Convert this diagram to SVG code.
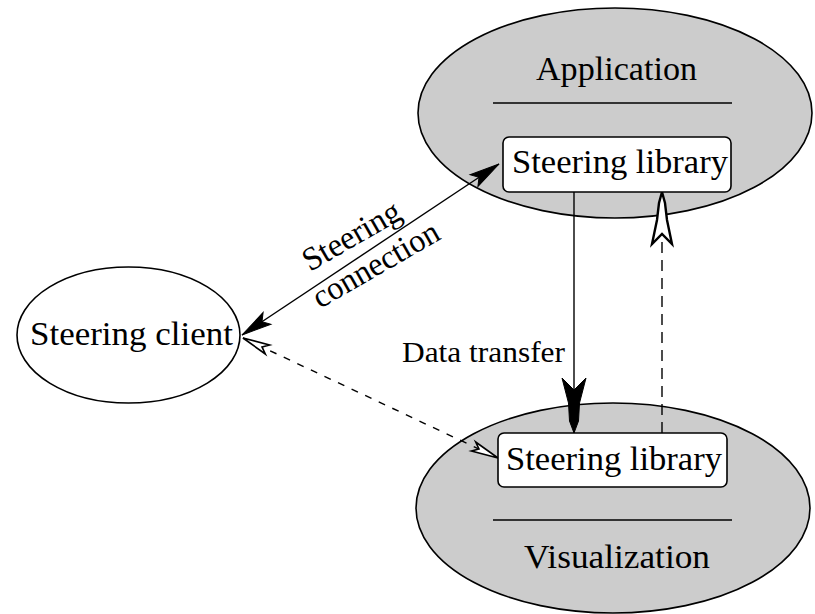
<svg xmlns="http://www.w3.org/2000/svg" width="815" height="614" viewBox="0 0 815 614">
<style>
  .t { font-family: "Liberation Serif", "Times New Roman", serif; font-size: 33px; fill: #000; }
  .big { fill: #cccccc; stroke: #000; stroke-width: 1.6; }
  .box { fill: #fff; stroke: #000; stroke-width: 1.6; }
  .rule { stroke: #000; stroke-width: 1.6; }
  .conn { fill: none; stroke: #000; stroke-width: 1.4; }
  .dash { stroke-dasharray: 7 8; }
  .vdash { stroke-dasharray: 11 7; }
</style>
<defs>
  <marker id="fillHead" markerUnits="userSpaceOnUse" orient="auto-start-reverse" refX="0" refY="0" markerWidth="40" markerHeight="20" overflow="visible">
    <path d="M0,0 L-30,-7 L-24,0 L-30,7 Z" fill="#000" stroke="#000" stroke-width="1"/>
  </marker>
  <marker id="openHead" markerUnits="userSpaceOnUse" orient="auto-start-reverse" refX="0" refY="0" markerWidth="40" markerHeight="20" overflow="visible">
    <path d="M0,0 L-27,-5 L-21,0 L-27,5 Z" fill="#fff" stroke="#000" stroke-width="1.6" stroke-dasharray="none"/>
  </marker>
  <marker id="dataHead" markerUnits="userSpaceOnUse" orient="auto" refX="0" refY="0" markerWidth="60" markerHeight="30" overflow="visible">
    <path d="M0,0 L-12,-4.5 L-30,-5.5 L-55,-12 L-43,0 L-55,12 L-30,5.5 L-12,4.5 Z" fill="#000" stroke="#000" stroke-width="1"/>
  </marker>
  <marker id="openTall" markerUnits="userSpaceOnUse" orient="auto" refX="0" refY="0" markerWidth="60" markerHeight="30" overflow="visible">
    <path d="M0,0 L-11,-3 L-28,-5 L-52,-10 L-42,0 L-52,10 L-28,5 L-11,3 Z" fill="#fff" stroke="#000" stroke-width="2.4" stroke-dasharray="none"/>
  </marker>
</defs>

<g id="application">
  <ellipse class="big" cx="615" cy="113" rx="197" ry="105"/>
  <text class="t" x="536" y="80" textLength="161" lengthAdjust="spacingAndGlyphs">Application</text>
  <line class="rule" x1="493" y1="103" x2="732" y2="103"/>
</g>

<g id="visualization">
  <ellipse class="big" cx="613" cy="508" rx="197" ry="105"/>
  <line class="rule" x1="493" y1="520" x2="732" y2="520"/>
  <text class="t" x="524" y="568" textLength="186" lengthAdjust="spacingAndGlyphs">Visualization</text>
</g>

<g id="client">
  <ellipse fill="#fff" stroke="#000" stroke-width="1.6" cx="128.5" cy="335" rx="111.5" ry="68"/>
  <text class="t" x="30" y="345" textLength="203" lengthAdjust="spacingAndGlyphs">Steering client</text>
</g>

<g id="connectors">
  <line class="conn" x1="574" y1="192" x2="574" y2="433" marker-end="url(#dataHead)"/>
  <line class="conn vdash" x1="662" y1="433" x2="662" y2="192" marker-end="url(#openTall)"/>
  <line class="conn" x1="242" y1="335" x2="499" y2="164" marker-start="url(#fillHead)" marker-end="url(#fillHead)"/>
  <line class="conn dash" x1="243" y1="338" x2="498" y2="458" marker-start="url(#openHead)" marker-end="url(#openHead)"/>
</g>

<g id="app-library">
  <rect class="box" x="503" y="137" width="228" height="55" rx="6"/>
  <text class="t" x="512" y="173" textLength="216" lengthAdjust="spacingAndGlyphs">Steering library</text>
</g>

<g id="viz-library">
  <rect class="box" x="498" y="433" width="229" height="54" rx="6"/>
  <text class="t" x="506" y="470" textLength="216" lengthAdjust="spacingAndGlyphs">Steering library</text>
</g>

<g id="labels">
  <text class="t" transform="translate(310,272) rotate(-30)" x="0" y="0" textLength="108" lengthAdjust="spacingAndGlyphs">Steering</text>
  <text class="t" transform="translate(320,309) rotate(-30)" x="0" y="0" textLength="141" lengthAdjust="spacingAndGlyphs">connection</text>
  <text class="t" style="font-size:30px" x="402" y="362" textLength="163" lengthAdjust="spacingAndGlyphs">Data transfer</text>
</g>
</svg>
